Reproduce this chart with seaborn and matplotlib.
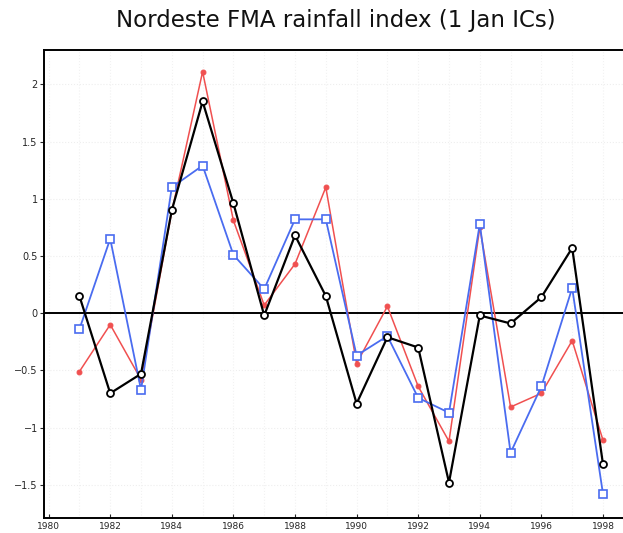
import matplotlib
matplotlib.use("Agg")
import matplotlib.pyplot as plt
import seaborn as sns
import pandas as pd

years = list(range(1981, 1999))
black_vals = [0.15, -0.70, -0.53, 0.90, 1.85, 0.96, -0.02, 0.68, 0.15,
              -0.79, -0.21, -0.30, -1.48, -0.02, -0.09, 0.14, 0.57, -1.32]
red_vals = [-0.51, -0.10, -0.58, 0.89, 2.11, 0.81, 0.07, 0.43, 1.10,
            -0.44, 0.06, -0.64, -1.12, 0.75, -0.82, -0.70, -0.24, -1.11]
blue_vals = [-0.14, 0.65, -0.67, 1.10, 1.29, 0.51, 0.21, 0.82, 0.82,
             -0.37, -0.20, -0.74, -0.87, 0.78, -1.22, -0.64, 0.22, -1.58]
xtick_years = list(range(1980, 2000, 2))
yticks = [-1.5, -1, -0.5, 0, 0.5, 1, 1.5, 2]
ytick_labels = ["\u22121.5", "\u22121", "\u22120.5", "0", "0.5", "1", "1.5", "2"]
title = "Nordeste FMA rainfall index (1 Jan ICs)"

sns.set_style("white")
plt.rcParams["font.family"] = ["DejaVu Sans"]

fig = plt.figure(figsize=(6.23, 5.33), dpi=100)
bottom_px = 518
ax = fig.add_axes([44 / 623, (533 - bottom_px) / 533, 1 - 44 / 623 + 0.02,
                   (bottom_px - 50) / 533])

df = pd.DataFrame({"year": years, "black": black_vals, "red": red_vals, "blue": blue_vals})

# faint dotted grid
for yv in yticks:
    ax.axhline(yv, color="#eeeeee", lw=0.8, ls=":", zorder=0)
for xv in range(1980, 2000):
    ax.axvline(xv, color="#f2f2f2", lw=0.8, ls=":", zorder=0)

ax.axhline(0, color="black", lw=1.4, zorder=1)

sns.lineplot(data=df, x="year", y="red", ax=ax, color="#f05050", lw=1.1,
             marker="o", markersize=3.5, markeredgecolor="#f05050",
             markerfacecolor="#f05050", zorder=2)
sns.lineplot(data=df, x="year", y="blue", ax=ax, color="#4a6cf0", lw=1.3,
             marker="s", markersize=5.5, markeredgecolor="#4a6cf0",
             markerfacecolor="white", markeredgewidth=1.2, zorder=3)
sns.lineplot(data=df, x="year", y="black", ax=ax, color="black", lw=1.6,
             marker="o", markersize=5, markeredgecolor="black",
             markerfacecolor="white", markeredgewidth=1.3, zorder=4)

ax.set_xlim(1979.85, 1998.65 + 0.02 * 623 / 30.8)
ax.set_ylim(-1.79, 2.3)
ax.set_xticks(xtick_years)
ax.set_xticklabels([str(y) for y in xtick_years], fontsize=6.5)
ax.set_yticks(yticks)
ax.set_yticklabels(ytick_labels, fontsize=7)
ax.tick_params(axis="x", direction="in", length=3, width=0.8, pad=3, bottom=True)
ax.tick_params(axis="y", direction="out", length=3, width=0.8, pad=1.5, left=True)
ax.set_xlabel("")
ax.set_ylabel("")
for s in ax.spines.values():
    s.set_color("black")
    s.set_linewidth(1.4)

fig.text(336 / 623, 1 - 20 / 533, title, ha="center", va="center",
         fontsize=16.5, color="#111111")

fig.savefig("out.png", dpi=100, facecolor="white")
